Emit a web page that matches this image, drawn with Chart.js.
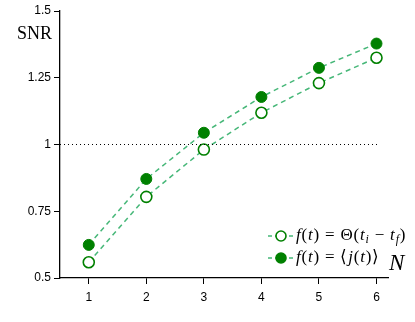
<!DOCTYPE html>
<html lang="en">
<head>
  <meta charset="UTF-8">
  <title>SNR vs N</title>
  <script src="https://cdn.jsdelivr.net/npm/chart.js"></script>
  <style>
    body { margin: 0; background: #fff; }
    #wrap { width: 415px; height: 322px; }
  </style>
</head>
<body>
  <div id="wrap"><canvas id="snrChart" width="415" height="322"></canvas></div>

  <script>
    // data
    const nValues = [1, 2, 3, 4, 5, 6];
    const snrStep = [0.559, 0.804, 0.981, 1.119, 1.230, 1.325];   // f(t) = Theta(t_i - t_f), open circles
    const snrCurrent = [0.624, 0.871, 1.044, 1.178, 1.287, 1.378]; // f(t) = <j(t)>, filled circles
    const yTickValues = [0.5, 0.75, 1, 1.25, 1.5];
    const yTickLabels = ['0.5', '0.75', '1', '1.25', '1.5'];
    const refX = [0.5, 6.05];
    const refY = [1, 1];

    const lineGreen = 'rgba(60,179,113,0.95)';
    const dotGreen = '#008000';
    const tickFont = { family: 'Liberation Sans', size: 12 };

    // draws a list of [text, italic, sub] pieces from x, y
    function mathText(ctx, parts, x, y, size) {
      let cx = x;
      ctx.letterSpacing = '0.8px';
      parts.forEach(p => {
        const s = p[2] ? size * 0.7 : size;
        ctx.font = (p[1] ? 'italic ' : '') + s + 'px "Liberation Serif"';
        ctx.fillText(p[0], cx, p[2] ? y + size * 0.25 : y);
        cx += ctx.measureText(p[0]).width;
      });
      ctx.letterSpacing = '0px';
    }

    const extras = {
      id: 'extras',
      afterDraw(chart) {
        const ctx = chart.ctx;
        ctx.save();
        ctx.fillStyle = '#000';
        ctx.textBaseline = 'middle';
        ctx.font = '18px "Liberation Serif"';
        ctx.fillText('SNR', 17, 34);
        ctx.font = 'italic 23px "Liberation Serif"';
        ctx.fillText('N', 389, 264);

        // legend
        const rows = [
          { y: 236, open: true, parts: [['f', 1], ['(', 0], ['t', 1], [') = Θ(', 0], ['t', 1], ['i', 1, 1], [' − ', 0], ['t', 1], ['f', 1, 1], [')', 0]] },
          { y: 258, open: false, parts: [['f', 1], ['(', 0], ['t', 1], [') = ⟨', 0], ['j', 1], ['(', 0], ['t', 1], [')⟩', 0]] }
        ];
        rows.forEach(r => {
          ctx.strokeStyle = lineGreen;
          ctx.lineWidth = 1.5;
          ctx.setLineDash([4, 3]);
          ctx.beginPath();
          ctx.moveTo(268, r.y);
          ctx.lineTo(295, r.y);
          ctx.stroke();
          ctx.setLineDash([]);
          ctx.beginPath();
          ctx.arc(281, r.y, 5, 0, Math.PI * 2);
          ctx.fillStyle = r.open ? '#fff' : dotGreen;
          ctx.fill();
          ctx.strokeStyle = dotGreen;
          ctx.lineWidth = 1.6;
          ctx.stroke();
          ctx.fillStyle = '#000';
          mathText(ctx, r.parts, 296, r.y, 17);
        });
        ctx.restore();
      }
    };

    new Chart(document.getElementById('snrChart'), {
      type: 'scatter',
      data: {
        datasets: [
          {
            label: 'ref',
            data: refX.map((x, i) => ({ x, y: refY[i] })),
            showLine: true,
            borderColor: '#000',
            borderWidth: 1,
            borderDash: [1, 3],
            pointRadius: 0
          },
          {
            label: 'f(t) = Θ(t_i − t_f)',
            data: nValues.map((x, i) => ({ x, y: snrStep[i] })),
            showLine: true,
            borderColor: lineGreen,
            borderWidth: 1.5,
            borderDash: [5, 4],
            pointRadius: 5.5,
            pointBackgroundColor: '#fff',
            pointBorderColor: dotGreen,
            pointBorderWidth: 1.6
          },
          {
            label: 'f(t) = ⟨j(t)⟩',
            data: nValues.map((x, i) => ({ x, y: snrCurrent[i] })),
            showLine: true,
            borderColor: lineGreen,
            borderWidth: 1.5,
            borderDash: [5, 4],
            pointRadius: 5.5,
            pointBackgroundColor: dotGreen,
            pointBorderColor: dotGreen,
            pointBorderWidth: 1
          }
        ]
      },
      options: {
        responsive: false,
        animation: false,
        layout: { padding: { top: 11, right: 27, left: 0, bottom: 0 } },
        plugins: { legend: { display: false }, tooltip: { enabled: false } },
        scales: {
          x: {
            type: 'linear',
            min: 0.5,
            max: 6.2,
            afterBuildTicks: s => { s.ticks = nValues.map(v => ({ value: v })); },
            afterFit: s => { s.height = 44; },
            border: { color: '#000', width: 1.3 },
            grid: { drawOnChartArea: false, drawTicks: true, tickLength: 6, color: '#000' },
            ticks: { color: '#000', font: tickFont, padding: 6, callback: v => String(v) }
          },
          y: {
            min: 0.5,
            max: 1.5,
            afterBuildTicks: s => { s.ticks = yTickValues.map(v => ({ value: v })); },
            afterFit: s => { s.width = 60; },
            border: { color: '#000', width: 1.3 },
            grid: { drawOnChartArea: false, drawTicks: true, tickLength: 6, color: '#000' },
            ticks: { color: '#000', font: tickFont, padding: 3, callback: v => yTickLabels[yTickValues.indexOf(v)] }
          }
        }
      },
      plugins: [extras]
    });
  </script>
</body>
</html>
